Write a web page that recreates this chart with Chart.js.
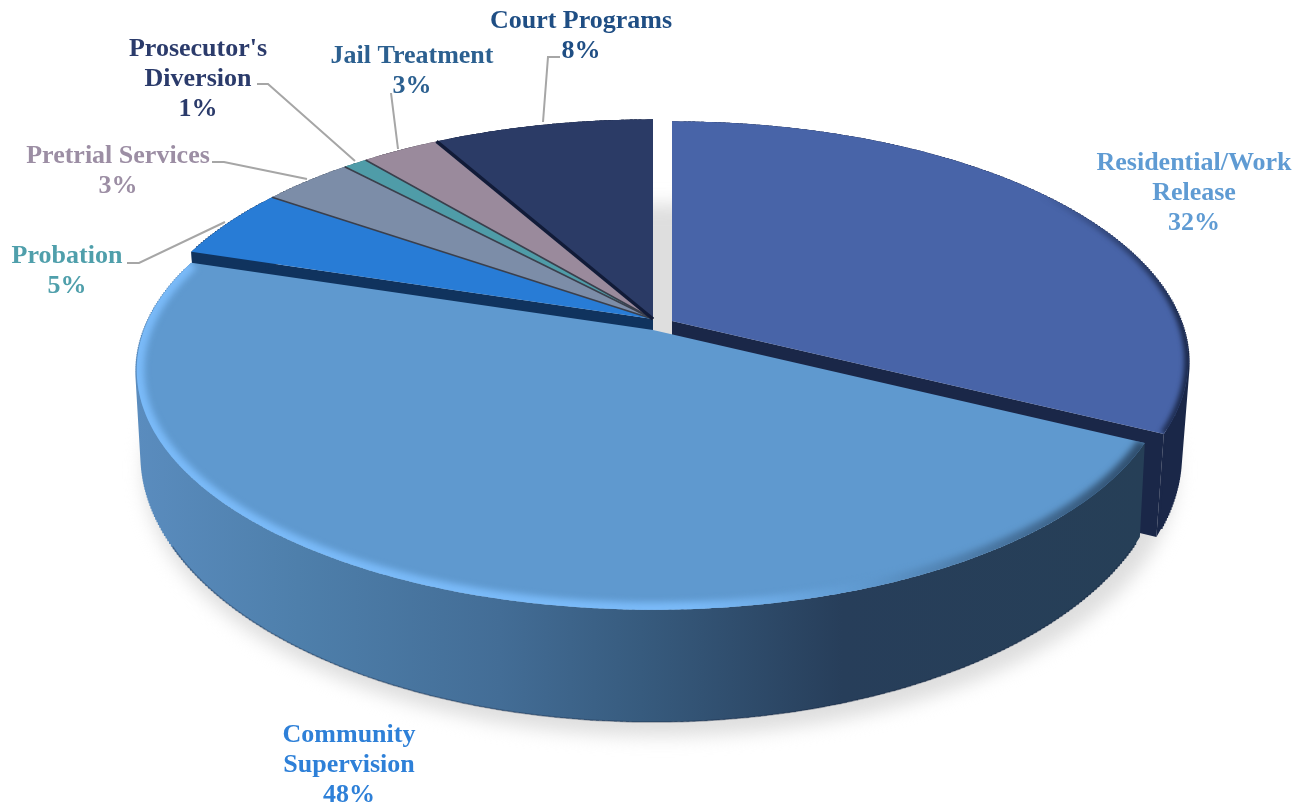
<!DOCTYPE html>
<html>
<head>
<meta charset="utf-8">
<title>Pie</title>
<script src="https://cdn.jsdelivr.net/npm/chart.js@4"></script>
<style>
  html, body { margin: 0; padding: 0; background: #fff; }
  canvas { display: block; }
</style>
</head>
<body>
<canvas id="pie" width="1310" height="805"></canvas>
<script>
// ====== DATA ======
const categories = ["Residential/Work Release", "Community Supervision", "Probation", "Pretrial Services", "Prosecutor's Diversion", "Jail Treatment", "Court Programs"];
const values = [32.4, 47.5, 4.8, 3.4, 0.9, 2.9, 8.1];

// ====== STYLE ======
const sliceColors = ["#4864A8", "#5F99CF", "#287CD6", "#7C8DA8", "#4F9CA8", "#9A8A9C", "#2B3B66"];
const wallColors = ["#1A2748", "#263F57", "#10335E", "#3A4658", "#2F5E66", "#4A4350", "#121C3A"];
const labelColors = ["#5F9BD3", "#2E80D8", "#4F9FAB", "#9C8EA4", "#2B3B6B", "#2C6090", "#1F4E84"];

// label block for each slice: wrapped lines, centre x, first baseline
const labelLines = [["Residential/Work", "Release"], ["Community", "Supervision"], ["Probation"], ["Pretrial Services"], ["Prosecutor's", "Diversion"], ["Jail Treatment"], ["Court Programs"]];
const labelX = [1194, 349, 67, 118, 198, 412, 581];
const labelY = [170, 742, 263, 163, 56, 63, 28];
const lineGap = 30;

const leaders = [
  [[127, 263], [139, 263], [225, 222]],
  [[212, 162], [224, 162], [307, 179]],
  [[257, 84], [268, 84], [355, 161]],
  [[391, 93], [398, 149]],
  [[560, 57], [548, 57], [543, 122]]
];

// apex of each exploded slice, how far its base pulls in, how far it drops
const apex = [
  { x: 672, y: 321, base: 0.985, drop: 135 },
  { x: 653, y: 330, base: 0.99, drop: 126 },
  { x: 653, y: 319, base: 0.99, drop: 126 },
  { x: 653, y: 319, base: 0.99, drop: 126 },
  { x: 653, y: 319, base: 0.99, drop: 126 },
  { x: 653, y: 319, base: 0.99, drop: 126 },
  { x: 653, y: 319, base: 0.99, drop: 126 }
];
const drawOrder = [2, 3, 4, 5, 6, 0, 1];
const sepWidths = [0, 0, 0, 1.6, 1.6, 1.6, 3.5];

// perspective of the tilted disc
const A = 509, B = 233, K = 0.167;

function project(theta, s) {
  const X = Math.cos(theta), Y = Math.sin(theta), w = 1 - K * Y;
  return { x: s.x + A * X / w, y: s.y + B * Y / w };
}

function projectBase(theta, s) {
  const p = project(theta, s);
  return { x: s.x + (p.x - s.x) * s.base, y: (p.y - s.y - 40) * 1.11 + s.y + s.drop };
}

function arcPoints(start, end, fn, s) {
  const pts = [];
  const n = Math.max(2, Math.ceil((end - start) / 0.01));
  for (let i = 0; i <= n; i++) pts.push(fn(start + (end - start) * i / n, s));
  return pts;
}

function tracePoly(ctx, pts) {
  ctx.beginPath();
  pts.forEach((p, i) => (i ? ctx.lineTo(p.x, p.y) : ctx.moveTo(p.x, p.y)));
  ctx.closePath();
}

function topPath(ctx, arc, s) {
  tracePoly(ctx, [{ x: s.x, y: s.y }].concat(arcPoints(arc.startAngle, arc.endAngle, project, s)));
}

function drawWall(ctx, arc, s, fill) {
  const top = arcPoints(arc.startAngle, arc.endAngle, project, s);
  const bottom = arcPoints(arc.startAngle, arc.endAngle, projectBase, s);
  ctx.fillStyle = fill;
  tracePoly(ctx, top.concat(bottom.slice().reverse()));
  ctx.fill();
  // sweep top edge to base edge so the silhouette stays convex at the sides
  ctx.strokeStyle = fill;
  ctx.lineWidth = 3;
  ctx.beginPath();
  for (let i = 3; i < top.length - 3; i++) {
    ctx.moveTo(top[i].x, top[i].y);
    ctx.lineTo(bottom[i].x, bottom[i].y);
  }
  ctx.stroke();
  // thin darker line where the wall meets the ground, front part only
  ctx.strokeStyle = "rgba(20,35,60,0.35)";
  ctx.lineWidth = 1.5;
  ctx.beginPath();
  bottom.filter((p) => p.y > s.y + 215).forEach((p, i) => (i ? ctx.lineTo(p.x, p.y) : ctx.moveTo(p.x, p.y)));
  ctx.stroke();
}

// flat cut face of a slice, seen where the next slice is pulled away
function drawCut(ctx, angle, s, fill) {
  const p = project(angle, s), q = projectBase(angle, s);
  ctx.fillStyle = fill;
  tracePoly(ctx, [{ x: s.x, y: s.y }, p, q, { x: s.x, y: s.y + 100 }]);
  ctx.fill();
}

function communityWallFill(ctx) {
  const g = ctx.createLinearGradient(137, 0, 1145, 0);
  g.addColorStop(0, "#5A8CBE");
  g.addColorStop(0.16, "#4E7FAB");
  g.addColorStop(0.36, "#436D96");
  g.addColorStop(0.5, "#375B7E");
  g.addColorStop(0.7, "#273E5A");
  g.addColorStop(1, "#263F57");
  return g;
}

// soft lit or shaded band along a slice's outer edge
function drawRim(ctx, arc, s, stroke, width, blur) {
  ctx.save();
  topPath(ctx, arc, s);
  ctx.clip();
  ctx.filter = "blur(" + blur + "px)";
  ctx.strokeStyle = stroke;
  ctx.lineWidth = width;
  ctx.beginPath();
  arcPoints(arc.startAngle, arc.endAngle, project, s).forEach((p, i) => (i ? ctx.lineTo(p.x, p.y) : ctx.moveTo(p.x, p.y)));
  ctx.stroke();
  ctx.restore();
}

const tiltedPie = {
  id: "tiltedPie",
  beforeDatasetsDraw(chart) {
    const ctx = chart.ctx;
    const arcs = chart.getDatasetMeta(0).data;
    ctx.save();

    // ground shadow
    ctx.save();
    ctx.filter = "blur(9px)";
    ctx.fillStyle = "#DEDEDE";
    const shadowApex = { x: 660, y: 344, base: 1.0, drop: 126 };
    tracePoly(ctx, arcPoints(0, Math.PI * 2, projectBase, shadowApex));
    ctx.fill();
    ctx.restore();

    // walls, back to front
    drawCut(ctx, arcs[2].startAngle, apex[2], wallColors[2]);
    drawCut(ctx, arcs[0].endAngle, apex[0], wallColors[0]);
    drawOrder.forEach((i) => {
      drawWall(ctx, arcs[i], apex[i], i === 1 ? communityWallFill(ctx) : wallColors[i]);
    });

    // top faces
    drawOrder.forEach((i) => {
      ctx.fillStyle = arcs[i].options.backgroundColor;
      topPath(ctx, arcs[i], apex[i]);
      ctx.fill();
    });

    // dark seams between the small slices
    [3, 4, 5, 6].forEach((i) => {
      const p = project(arcs[i].startAngle, apex[i]);
      ctx.strokeStyle = i === 6 ? "#111B38" : "#3A3F4C";
      ctx.lineWidth = sepWidths[i];
      ctx.beginPath();
      ctx.moveTo(apex[i].x, apex[i].y);
      ctx.lineTo(p.x, p.y);
      ctx.stroke();
    });

    // bevels
    const lit = ctx.createLinearGradient(137, 0, 1145, 0);
    lit.addColorStop(0, "#7ABAF8");
    lit.addColorStop(0.55, "#7ABAF8");
    lit.addColorStop(0.72, "#5F99CF");
    lit.addColorStop(1, "#2F4D6C");
    drawRim(ctx, arcs[1], apex[1], lit, 15, 3);

    const shaded = ctx.createLinearGradient(1040, 0, 1185, 0);
    shaded.addColorStop(0, "rgba(26,39,72,0)");
    shaded.addColorStop(1, "rgba(26,39,72,1)");
    drawRim(ctx, arcs[0], apex[0], shaded, 8, 2.5);

    ctx.restore();
    drawLabels(chart);
    return false;
  }
};

function drawLabels(chart) {
  const ctx = chart.ctx;
  ctx.save();
  ctx.strokeStyle = "#A6A6A6";
  ctx.lineWidth = 2;
  leaders.forEach((line) => {
    ctx.beginPath();
    line.forEach((p, i) => (i ? ctx.lineTo(p[0], p[1]) : ctx.moveTo(p[0], p[1])));
    ctx.stroke();
  });

  ctx.font = "bold 26px 'Liberation Serif'";
  ctx.textAlign = "center";
  ctx.textBaseline = "alphabetic";
  categories.forEach((name, i) => {
    ctx.fillStyle = labelColors[i];
    labelLines[i].concat(Math.round(values[i]) + "%").forEach((text, j) => {
      ctx.fillText(text, labelX[i], labelY[i] + j * lineGap);
    });
  });
  ctx.restore();
}

// ====== CHART ======
new Chart(document.getElementById("pie"), {
  type: "pie",
  data: {
    labels: categories,
    datasets: [{ data: values, backgroundColor: sliceColors, borderWidth: 0 }]
  },
  options: {
    responsive: false,
    animation: false,
    devicePixelRatio: 1,
    plugins: { legend: { display: false }, tooltip: { enabled: false } }
  },
  plugins: [tiltedPie]
});
</script>
</body>
</html>
